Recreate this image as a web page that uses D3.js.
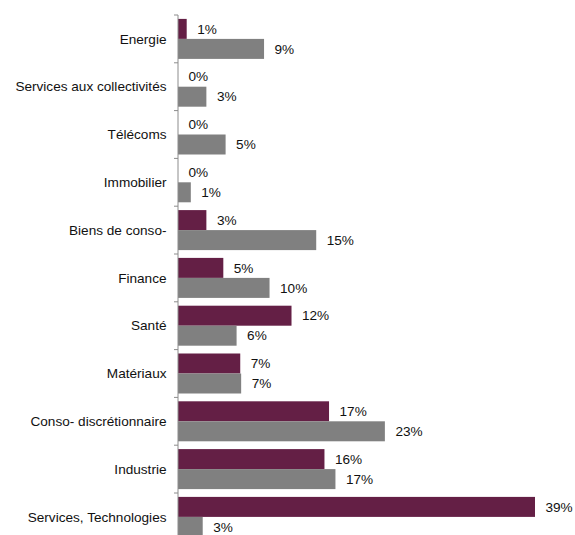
<!DOCTYPE html>
<html lang="fr">
  <head>
    <meta charset="UTF-8" />
    <title>Répartition sectorielle</title>
    <script src="https://d3js.org/d3.v7.min.js"></script>
    <style>
      body {
        margin: 0;
        background: #fff;
        font-family: "Liberation Sans", Arial, sans-serif;
      }
      svg {
        display: block;
      }
      .cat-label,
      .val-label {
        font-size: 13.6px;
        fill: #111;
      }
    </style>
  </head>
  <body>
    <svg width="575" height="535"></svg>
    <script>
      // Data (bar lengths estimated, labels rounded)
      const categories = [
        "Energie",
        "Services aux collectivités",
        "Télécoms",
        "Immobilier",
        "Biens de conso-",
        "Finance",
        "Santé",
        "Matériaux",
        "Conso- discrétionnaire",
        "Industrie",
        "Services, Technologies",
      ];
      const seriesA = [0.95, 0, 0, 0, 3.1, 4.95, 12.4, 6.8, 16.5, 16.0, 39.0];
      const seriesB = [9.4, 3.1, 5.2, 1.4, 15.1, 10.0, 6.4, 6.9, 22.6, 17.2, 2.7];
      const seriesNames = ["a", "b"];
      const colors = ["#641f45", "#808080"];

      const svg = d3.select("svg");
      const margin = { top: 15, left: 178 };
      const bandH = 47.8;

      const rows = categories.map((c, i) => ({
        cat: c,
        vals: [seriesA[i], seriesB[i]],
      }));

      const y = d3
        .scaleBand()
        .domain(categories)
        .range([margin.top, margin.top + bandH * categories.length])
        .padding(0);

      const ySub = d3
        .scaleBand()
        .domain(seriesNames)
        .range([0, y.bandwidth()])
        .paddingInner(0)
        .paddingOuter(0.195);

      const x = d3.scaleLinear().domain([0, 39]).range([margin.left, 535]);

      const g = svg.append("g");

      const groups = g
        .selectAll(".grp")
        .data(rows)
        .join("g")
        .attr("class", "grp")
        .attr("transform", (d) => `translate(0,${y(d.cat)})`);

      // bars
      groups
        .selectAll("rect")
        .data((d) => d.vals.map((v, k) => ({ v, k })))
        .join("rect")
        .attr("x", x(0))
        .attr("y", (d) => ySub(seriesNames[d.k]))
        .attr("width", (d) => x(d.v) - x(0))
        .attr("height", ySub.bandwidth())
        .attr("fill", (d) => colors[d.k]);

      // value labels
      groups
        .selectAll(".val-label")
        .data((d) => d.vals.map((v, k) => ({ v, k })))
        .join("text")
        .attr("class", "val-label")
        .attr("x", (d) => x(d.v) + 10.5)
        .attr("y", (d) => ySub(seriesNames[d.k]) + ySub.bandwidth() / 2)
        .attr("dy", "0.35em")
        .text((d) => Math.round(d.v) + "%");

      // category axis: vertical line + ticks at band edges
      const axisX = x(0);
      const yEnd = margin.top + bandH * categories.length;
      g.append("line")
        .attr("x1", axisX)
        .attr("x2", axisX)
        .attr("y1", margin.top)
        .attr("y2", yEnd)
        .attr("stroke", "#8c8c8c")
        .attr("stroke-width", 1);

      g.selectAll(".tick")
        .data(d3.range(categories.length + 1))
        .join("line")
        .attr("class", "tick")
        .attr("x1", axisX - 4)
        .attr("x2", axisX)
        .attr("y1", (i) => margin.top + i * bandH)
        .attr("y2", (i) => margin.top + i * bandH)
        .attr("stroke", "#8c8c8c");

      g.selectAll(".cat-label")
        .data(categories)
        .join("text")
        .attr("class", "cat-label")
        .attr("x", axisX - 11.5)
        .attr("y", (d) => y(d) + y.bandwidth() / 2)
        .attr("dy", "0.35em")
        .attr("text-anchor", "end")
        .text((d) => d);
    </script>
  </body>
</html>
